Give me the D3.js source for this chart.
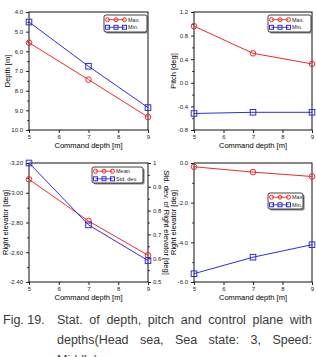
<!DOCTYPE html>
<html lang="en">
<head>
<meta charset="UTF-8">
<title>Fig. 19</title>
<style>
  html, body { margin: 0; padding: 0; background: #fff; }
  svg { display: block; font-family: "Liberation Sans", Arial, sans-serif; }
</style>
</head>
<body>
<svg id="fig" width="316" height="357"></svg>
<script src="https://cdn.jsdelivr.net/npm/d3@7"></script>
<script>
// data
var commandDepth = [5, 7, 9];
var xTicks = [5, 6, 7, 8, 9];

var depthMax = [5.56, 7.44, 9.34];
var depthMin = [4.51, 6.76, 8.86];

var pitchMax = [0.96, 0.50, 0.32];
var pitchMin = [-0.52, -0.50, -0.50];

var elevMean = [-3.09, -2.81, -2.58];
var elevStd = [1.0, 0.74, 0.59];

var elevMax = [-0.19, -0.46, -0.68];
var elevMin = [-5.58, -4.75, -4.12];

var captionLine1 = "Stat. of depth, pitch and control plane with";
var captionLine2 = "depths(Head sea, Sea state: 3, Speed:";
var captionLine3 = "Middle)";

var RED = "#ec2a2a", BLUE = "#2e2ed8";

var svg = d3.select("#fig");

function fmt(n) {
    return function (d) { return d.toFixed(n); };
}

function marker(g, shape, color, x, y, s) {
    s = s || 2.8;
    if (shape == "circle") {
        g.append("circle").attr("cx", x).attr("cy", y).attr("r", s)
            .attr("fill", "none").attr("stroke", color).attr("stroke-width", 1);
    } else {
        g.append("rect").attr("x", x - s).attr("y", y - s).attr("width", 2 * s).attr("height", 2 * s)
            .attr("fill", "none").attr("stroke", color).attr("stroke-width", 1);
    }
}

function drawPanel(p) {
    var x = d3.scaleLinear().domain([5, 9]).range([p.x0, p.x1]);
    var y = d3.scaleLinear().domain(p.yDomain).range([p.y1, p.y0]);
    var g = svg.append("g");

    // minor ticks
    g.append("g").attr("transform", "translate(" + p.x0 + ",0)")
        .call(d3.axisLeft(y).tickValues(p.yMinor).tickSize(1.8).tickFormat(""))
        .call(a => a.select(".domain").remove());
    g.append("g").attr("transform", "translate(" + p.x0 + ",0)")
        .call(d3.axisLeft(y).tickValues(p.yTicks).tickSize(3).tickPadding(3).tickFormat(p.yFormat))
        .call(a => a.select(".domain").remove());
    g.append("g").attr("transform", "translate(0," + p.y1 + ")")
        .call(d3.axisBottom(x).tickValues(xTicks).tickSize(3).tickPadding(2).tickFormat(d3.format("d")))
        .call(a => a.select(".domain").remove());

    if (p.right) {
        var y2 = d3.scaleLinear().domain(p.right.domain).range([p.y1, p.y0]);
        p.right.scale = y2;
        g.append("g").attr("transform", "translate(" + p.x1 + ",0)")
            .call(d3.axisRight(y2).tickValues(p.right.minor).tickSize(1.8).tickFormat(""))
            .call(a => a.select(".domain").remove());
        g.append("g").attr("transform", "translate(" + p.x1 + ",0)")
            .call(d3.axisRight(y2).tickValues(p.right.ticks).tickSize(3).tickPadding(2)
                .tickFormat(d => String(+d.toFixed(2))))
            .call(a => a.select(".domain").remove());
        g.append("text")
            .attr("transform", "translate(" + p.right.titleX + "," + ((p.y0 + p.y1) / 2) + ") rotate(90)")
            .attr("text-anchor", "middle").attr("dominant-baseline", "central")
            .attr("font-size", 7.5).text(p.right.title);
    }

    g.selectAll(".tick text").attr("font-size", 6).attr("fill", "#222")
        .attr("font-family", "Liberation Sans, Arial, sans-serif");
    g.selectAll(".tick line").attr("stroke", "#222");

    g.append("rect").attr("x", p.x0).attr("y", p.y0)
        .attr("width", p.x1 - p.x0).attr("height", p.y1 - p.y0)
        .attr("fill", "none").attr("stroke", "#111").attr("stroke-width", 1);

    g.append("text").attr("x", (p.x0 + p.x1) / 2).attr("y", p.y1 + 18)
        .attr("text-anchor", "middle").attr("font-size", 7.5).text("Command depth [m]");
    g.append("text")
        .attr("transform", "translate(" + p.titleX + "," + ((p.y0 + p.y1) / 2) + ") rotate(-90)")
        .attr("text-anchor", "middle").attr("dominant-baseline", "central")
        .attr("font-size", 7.5).text(p.title);

    p.series.forEach(function (s) {
        var sy = s.axis == "right" ? p.right.scale : y;
        var line = d3.line().x((d, i) => x(commandDepth[i])).y(d => sy(d));
        g.append("path").datum(s.values).attr("d", line)
            .attr("fill", "none").attr("stroke", s.color).attr("stroke-width", 1);
        s.values.forEach(function (v, i) {
            marker(g, s.shape, s.color, x(commandDepth[i]), sy(v));
        });
    });

    // legend
    var L = p.legend;
    var lg = g.append("g").attr("transform", "translate(" + L.x + "," + L.y + ")");
    lg.append("rect").attr("x", 1.6).attr("y", 1.6).attr("width", L.w).attr("height", L.h)
        .attr("rx", 2).attr("fill", "#888");
    lg.append("rect").attr("x", 0).attr("y", 0).attr("width", L.w).attr("height", L.h)
        .attr("rx", 2).attr("fill", "#fff").attr("stroke", "#111").attr("stroke-width", 0.8);
    p.series.forEach(function (s, i) {
        var ry = L.h / 2 - 3.8 + i * 7.6;
        lg.append("line").attr("x1", 3.5).attr("x2", 20.5).attr("y1", ry).attr("y2", ry)
            .attr("stroke", s.color).attr("stroke-width", 0.9);
        [3.5, 12, 20.5].forEach(function (mx) { marker(lg, s.shape, s.color, mx, ry, 2); });
        lg.append("text").attr("x", 24).attr("y", ry).attr("dominant-baseline", "central")
            .attr("font-size", 5.5).attr("fill", "#222").text(s.name);
    });
}

drawPanel({
    x0: 29, x1: 148, y0: 12, y1: 130,
    yDomain: [10, 4], yTicks: [4, 5, 6, 7, 8, 9, 10], yMinor: d3.range(4.5, 10, 1),
    yFormat: fmt(1), title: "Depth [m]", titleX: 7,
    legend: { x: 104, y: 15, w: 43, h: 17 },
    series: [
        { name: "Max.", values: depthMax, color: RED, shape: "circle" },
        { name: "Min.", values: depthMin, color: BLUE, shape: "square" }
    ]
});

drawPanel({
    x0: 194, x1: 312, y0: 12, y1: 130,
    yDomain: [-0.8, 1.2], yTicks: [-0.8, -0.4, 0, 0.4, 0.8, 1.2], yMinor: [-0.6, -0.2, 0.2, 0.6, 1.0],
    yFormat: fmt(1), title: "Pitch [deg]", titleX: 173,
    legend: { x: 268, y: 15, w: 43, h: 17 },
    series: [
        { name: "Max.", values: pitchMax, color: RED, shape: "circle" },
        { name: "Min.", values: pitchMin, color: BLUE, shape: "square" }
    ]
});

drawPanel({
    x0: 29, x1: 148, y0: 163, y1: 282,
    yDomain: [-2.4, -3.2], yTicks: [-3.2, -3.0, -2.8, -2.6, -2.4], yMinor: [-3.1, -2.9, -2.7, -2.5],
    yFormat: fmt(2), title: "Right elevator [deg]", titleX: 5,
    right: {
        domain: [0.5, 1], ticks: [0.5, 0.6, 0.7, 0.8, 0.9, 1], minor: [0.55, 0.65, 0.75, 0.85, 0.95],
        title: "Std. dev. of Right elevator [deg]", titleX: 166
    },
    legend: { x: 92, y: 167, w: 51, h: 16 },
    series: [
        { name: "Mean", values: elevMean, color: RED, shape: "circle" },
        { name: "Std. dev.", values: elevStd, color: BLUE, shape: "square", axis: "right" }
    ]
});

drawPanel({
    x0: 194, x1: 312, y0: 163, y1: 282,
    yDomain: [-6, 0], yTicks: [-6, -4, -2, 0], yMinor: [-5, -3, -1],
    yFormat: fmt(1), title: "Right elevator [deg]", titleX: 173,
    legend: { x: 268, y: 193, w: 35, h: 16 },
    series: [
        { name: "Max.", values: elevMax, color: RED, shape: "circle" },
        { name: "Min.", values: elevMin, color: BLUE, shape: "square" }
    ]
});

// caption, justified like the paper
var cap = svg.append("g").attr("font-size", 12.5).attr("fill", "#3a3a3a");
cap.append("text").attr("x", 3).attr("y", 324).text("Fig. 19.");

function justify(str, x0, x1, yb) {
    var words = str.split(" ");
    var nodes = words.map(w => cap.append("text").attr("y", yb).text(w));
    var widths = nodes.map(n => n.node().getComputedTextLength());
    var gap = (x1 - x0 - d3.sum(widths)) / (words.length - 1);
    var cx = x0;
    nodes.forEach(function (n, i) {
        n.attr("x", cx);
        cx += widths[i] + gap;
    });
}
justify(captionLine1, 57, 312, 324);
justify(captionLine2, 57, 312, 344);
cap.append("text").attr("x", 57).attr("y", 364).text(captionLine3);
</script>
</body>
</html>
